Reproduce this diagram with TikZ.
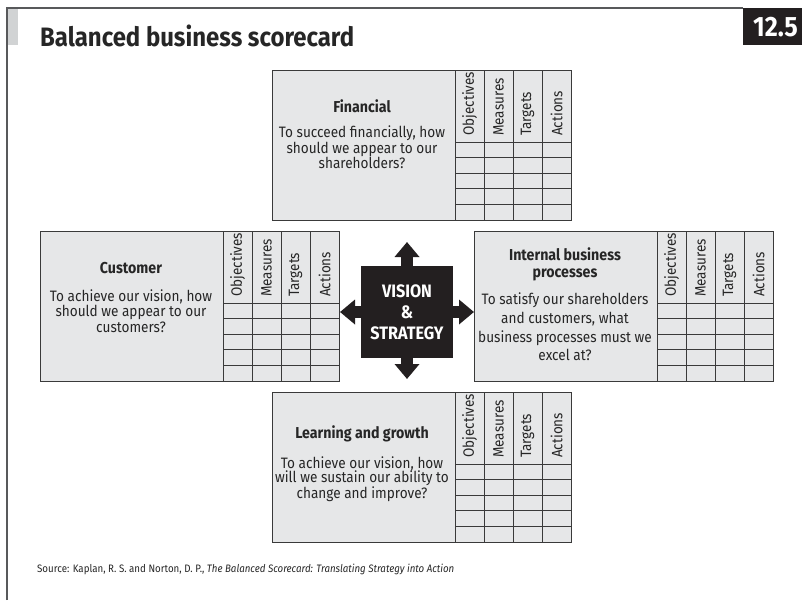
\documentclass[tikz,border=0pt]{standalone}
\usepackage{fontspec}
\setmainfont[FakeStretch=0.9]{Fira Sans}
\usetikzlibrary{arrows.meta}
\definecolor{boxgray}{HTML}{E6E7E8}
\definecolor{linegray}{HTML}{3A3A3A}
\definecolor{framegray}{HTML}{58595B}
\definecolor{bargray}{HTML}{D1D3D4}
\definecolor{badgedark}{HTML}{231F20}
\newcommand\ScBox[3]{%
\begin{scope}[shift={(#1,#2)}]
  \node[boxnode, anchor=north west] (#3) at (0,0) {};
  \foreach \cx in {183,212,241,270} \draw[gridline] (\cx,0) -- (\cx,149.5);
  \foreach \ry in {72.5,87.9,103.3,118.7,134.1} \draw[gridline] (183,\ry) -- (299,\ry);
  \node[collabel] (#3-obj) at (197.5,66) {Objectives};
  \node[collabel] (#3-mea) at (226.5,66) {Measures};
  \node[collabel] (#3-tar) at (255.5,66) {Targets};
  \node[collabel] (#3-act) at (284.5,66) {Actions};
\end{scope}}
\begin{document}
\begin{tikzpicture}[x=1pt,y=-1pt,
  frameline/.style={draw=framegray, line width=1.4pt},
  boxnode/.style={fill=boxgray, draw=linegray, line width=1.2pt, minimum width=299pt, minimum height=149.5pt, inner sep=0pt},
  gridline/.style={draw=linegray, line width=0.9pt},
  collabel/.style={rotate=90, anchor=west, inner sep=0pt, text=black!85, font=\fontsize{15}{15}\selectfont},
  btitle/.style={font=\bfseries\fontsize{15.8}{17.6}\selectfont, align=center, inner sep=0pt, text=black!85},
  bbody/.style={font=\fontsize{15.1}{14.5}\selectfont, align=center, inner sep=0pt, text=black!85},
  vsarrow/.style={draw=badgedark, line width=12pt, -{Triangle[length=15pt,width=24pt]}},
]
\useasboundingbox (0,0) rectangle (806,600);
\fill[white] (0,0) rectangle (806,600);
% frame
\draw[frameline] (7,600) -- (7,8) -- (743,8);
\fill[bargray] (7.7,8.7) rectangle (18,45);
\node[anchor=base west, inner sep=0pt, text=black!85, font=\bfseries\fontsize{26.6}{26.6}\selectfont] (title) at (40,46) {Balanced business scorecard};
\node[fill=badgedark, anchor=north west, minimum width=59pt, minimum height=37pt, inner sep=0pt] (badge) at (743,8) {};
\node[text=white, inner sep=0pt, font=\bfseries\fontsize{28}{28}\selectfont] (badgetxt) at (775.5,27) {12.5};
% boxes
\ScBox{272}{70}{fin}
\ScBox{40}{231}{cus}
\ScBox{474}{231}{int}
\ScBox{272}{392}{lea}
% texts
\node[btitle] (fin-t) at (362,106.7) {Financial};
\node[bbody] (fin-b) at (362,147.5) {To succeed financially, how\\should we appear to our\\shareholders?};
\node[btitle] (cus-t) at (131,268.3) {Customer};
\node[bbody, font=\fontsize{15.1}{15.2}\selectfont] (cus-b) at (131,311) {To achieve our vision, how\\should we appear to our\\customers?};
\node[btitle] (int-t) at (565,264.5) {Internal business\\processes};
\node[bbody, font=\fontsize{15.1}{18.7}\selectfont] (int-b) at (565,327) {To satisfy our shareholders\\and customers, what\\business processes must we\\excel at?};
\node[btitle] (lea-t) at (362,434.3) {Learning and growth};
\node[bbody] (lea-b) at (362,479) {To achieve our vision, how\\will we sustain our ability to\\change and improve?};
% centre
\node[fill=badgedark, minimum size=92pt, inner sep=0pt, text=white, align=center, font=\bfseries\fontsize{18}{21}\selectfont] (vs) at (407,312) {VISION\\\&\\STRATEGY};
\coordinate (tipN) at (407,242);
\coordinate (tipS) at (407,379);
\coordinate (tipW) at (340,312);
\coordinate (tipE) at (474,312);
\draw[vsarrow] (vs.north) -- (tipN);
\draw[vsarrow] (vs.south) -- (tipS);
\draw[vsarrow] (vs.west) -- (tipW);
\draw[vsarrow] (vs.east) -- (tipE);
% source
\node[anchor=base west, inner sep=0pt, text=black!85, font=\fontsize{10.8}{12}\selectfont] (src) at (37,572) {Source: Kaplan, R. S. and Norton, D. P., \textit{The Balanced Scorecard: Translating Strategy into Action}};
\end{tikzpicture}
\end{document}
